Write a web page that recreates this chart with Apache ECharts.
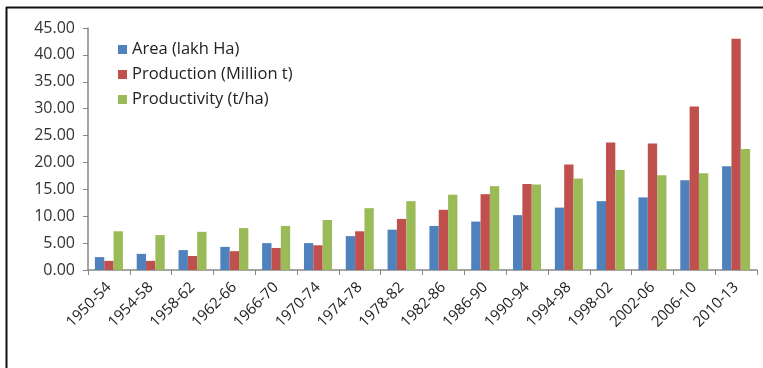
<!DOCTYPE html>
<html>
<head>
<meta charset="utf-8">
<script src="https://cdn.jsdelivr.net/npm/echarts@6/dist/echarts.min.js"></script>
<style>
  html, body { margin: 0; padding: 0; background: #fff; }
  #chart { width: 763px; height: 368px; }
</style>
</head>
<body>
<div id="chart"></div>
<script>
// Periods on the x axis
const periods = ['1950-54', '1954-58', '1958-62', '1962-66', '1966-70', '1970-74', '1974-78', '1978-82',
  '1982-86', '1986-90', '1990-94', '1994-98', '1998-02', '2002-06', '2006-10', '2010-13'];

// Area under cultivation (lakh Ha)
const area = [2.4, 3.0, 3.7, 4.3, 5.0, 5.0, 6.3, 7.5, 8.2, 9.0, 10.2, 11.6, 12.8, 13.5, 16.7, 19.3];
// Production (Million t)
const production = [1.7, 1.7, 2.6, 3.5, 4.1, 4.6, 7.2, 9.5, 11.2, 14.1, 16.0, 19.6, 23.7, 23.5, 30.4, 43.0];
// Productivity (t/ha)
const productivity = [7.2, 6.5, 7.1, 7.8, 8.2, 9.3, 11.5, 12.8, 14.0, 15.6, 15.9, 17.0, 18.6, 17.6, 18.0, 22.5];

const seriesNames = ['Area (lakh Ha)', 'Production (Million t)', 'Productivity (t/ha)'];
const colors = ['#4F81BD', '#C0504D', '#9BBB59'];

const font = 'Open Sans, Liberation Sans, sans-serif';
const chart = echarts.init(document.getElementById('chart'), null, { renderer: 'canvas' });

const bar = (name, data, color) => ({
  name, type: 'bar', data, barGap: '0%', barCategoryGap: '33%',
  itemStyle: { color }
});

chart.setOption({
  animation: false,
  grid: { left: 88, right: 6, top: 28, bottom: 98, containLabel: false },
  legend: {
    orient: 'vertical', left: 113, top: 36, itemGap: 8,
    itemWidth: 9, itemHeight: 9, icon: 'rect',
    textStyle: { fontFamily: font, fontSize: 16.5, color: '#222' },
    data: seriesNames
  },
  xAxis: {
    type: 'category', data: periods,
    axisLine: { lineStyle: { color: '#868686', width: 1.5 } },
    axisTick: { show: true, alignWithLabel: false, length: 5, lineStyle: { color: '#868686' } },
    axisLabel: { rotate: 45, fontFamily: font, fontSize: 15, color: '#222', margin: 15, interval: 0 }
  },
  yAxis: {
    type: 'value', min: 0, max: 45, interval: 5,
    axisLine: { show: true, lineStyle: { color: '#868686', width: 1.5 } },
    axisTick: { show: true, inside: false, length: 5, lineStyle: { color: '#868686' } },
    splitLine: { show: false },
    axisLabel: { fontFamily: font, fontSize: 16, color: '#333', margin: 13,
      formatter: v => v.toFixed(2) }
  },
  graphic: [
    { type: 'line', shape: { x1: 6.5, y1: 7, x2: 6.5, y2: 368 }, style: { stroke: '#111', lineWidth: 2 } },
    { type: 'line', shape: { x1: 6, y1: 7.5, x2: 763, y2: 7.5 }, style: { stroke: '#111', lineWidth: 2 } }
  ],
  series: [
    bar(seriesNames[0], area, colors[0]),
    bar(seriesNames[1], production, colors[1]),
    bar(seriesNames[2], productivity, colors[2])
  ]
});
</script>
</body>
</html>
